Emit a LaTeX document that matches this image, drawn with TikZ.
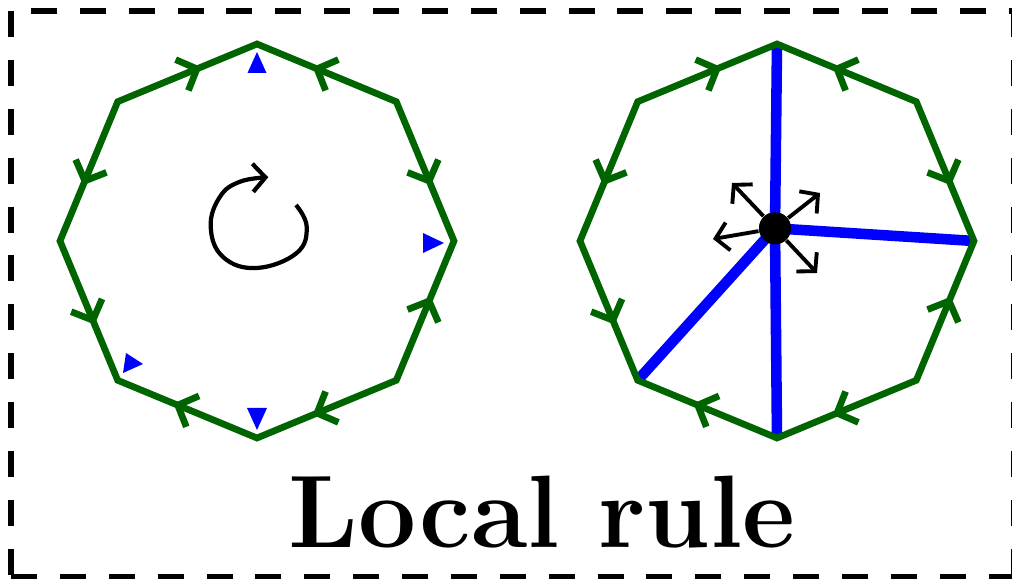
\documentclass[tikz,border=0pt]{standalone}
\usetikzlibrary{arrows.meta,decorations.markings,calc}
\definecolor{dgreen}{RGB}{0,100,0}
\definecolor{pblue}{RGB}{0,0,255}
\begin{document}
\begin{tikzpicture}[x=0.01cm,y=0.01cm,
  octo/.style={draw=dgreen, line width=1.9pt, line join=miter},
  flow/.style={dgreen, line width=1.9pt,
    decoration={markings, mark=at position 0.6 with {\arrow{Straight Barb[length=4.6pt,width=9.5pt]}}},
    postaction={decorate}},
  tri/.style={fill=pblue},
  bline/.style={draw=pblue, line width=3pt},
  blk/.style={draw=black, line width=1.1pt, -{Straight Barb[length=3.6pt,width=8pt]}},
  border/.style={draw=black, line width=1.7pt, dash pattern=on 7.4pt off 6.5pt},
  titlefont/.style={font=\fontsize{29.3pt}{35pt}\selectfont\bfseries}
]
\useasboundingbox (0,0) rectangle (1012,582);

% border
\coordinate (bTL) at (11,571);
\coordinate (bTR) at (1013.5,571);
\coordinate (bBL) at (11,5.5);
\coordinate (bBR) at (1013.5,5.5);
\draw[border] (bTL) -- (bBL);
\draw[border, dash phase=8.25pt] (bTL) -- (bTR);
\draw[border] (bBL) -- (bBR);
\draw[border] (bTR) -- (bBR);

% octagon vertices
\foreach \cx/\n in {257/L, 777/R} {
  \foreach \a in {90,45,0,-45,-90,-135,180,135} {
    \coordinate (\n\a) at ($(\cx,341)+(\a:197)$);
  }
}

% right octagon blue lines
\node[circle, fill=black, inner sep=0pt, minimum size=0.32cm] (dot) at (775,353.7) {};
\draw[bline] (dot.center) -- (R90);
\draw[bline] (dot.center) -- (R0);
\draw[bline] (dot.center) -- (R-90);
\draw[bline] (dot.center) -- (R-135);

% octagons
\foreach \n in {L,R} {
  \draw[octo] (\n90) -- (\n45) -- (\n0) -- (\n-45) -- (\n-90) -- (\n-135) -- (\n180) -- (\n135) -- cycle;
  \path[flow] (\n135) -- (\n90);
  \path[flow] (\n45) -- (\n90);
  \path[flow] (\n45) -- (\n0);
  \path[flow] (\n-45) -- (\n0);
  \path[flow] (\n-45) -- (\n-90);
  \path[flow] (\n-90) -- (\n-135);
  \path[flow] (\n180) -- (\n-135);
  \path[flow] (\n135) -- (\n180);
}

% redraw dot on top
\node[circle, fill=black, inner sep=0pt, minimum size=0.32cm] at (dot.center) {};

% black arrows from dot
\coordinate (tUL) at (732,399);
\coordinate (tUR) at (820,389);
\coordinate (tL) at (713,343);
\coordinate (tLR) at (817,309);
\draw[blk] (dot) -- (tUL);
\draw[blk] (dot) -- (tUR);
\draw[blk] (dot) -- (tL);
\draw[blk] (dot) -- (tLR);

% blue triangles (left octagon)
\fill[tri] (257,530) -- (247.5,509) -- (266.5,509) -- cycle;
\fill[tri] (444,339) -- (423,349) -- (423,329) -- cycle;
\fill[tri] (257,152) -- (247,174) -- (267,174) -- cycle;
\fill[tri] (143,218) -- (126,229) -- (123,209) -- cycle;

% rotation arrow
\draw[line width=1.2pt, -{Straight Barb[length=3.6pt,width=8pt]}]
  plot[smooth, tension=0.7] coordinates {(296,377) (306.7,355.3) (296.7,329) (256.7,314) (223,325) (210.7,355.3) (220,385.3) (240,400.3) (268.3,404.7)};

% title
\node[titlefont, anchor=base, inner sep=0pt] (title) at (542,34) {Local rule};
\end{tikzpicture}
\end{document}
